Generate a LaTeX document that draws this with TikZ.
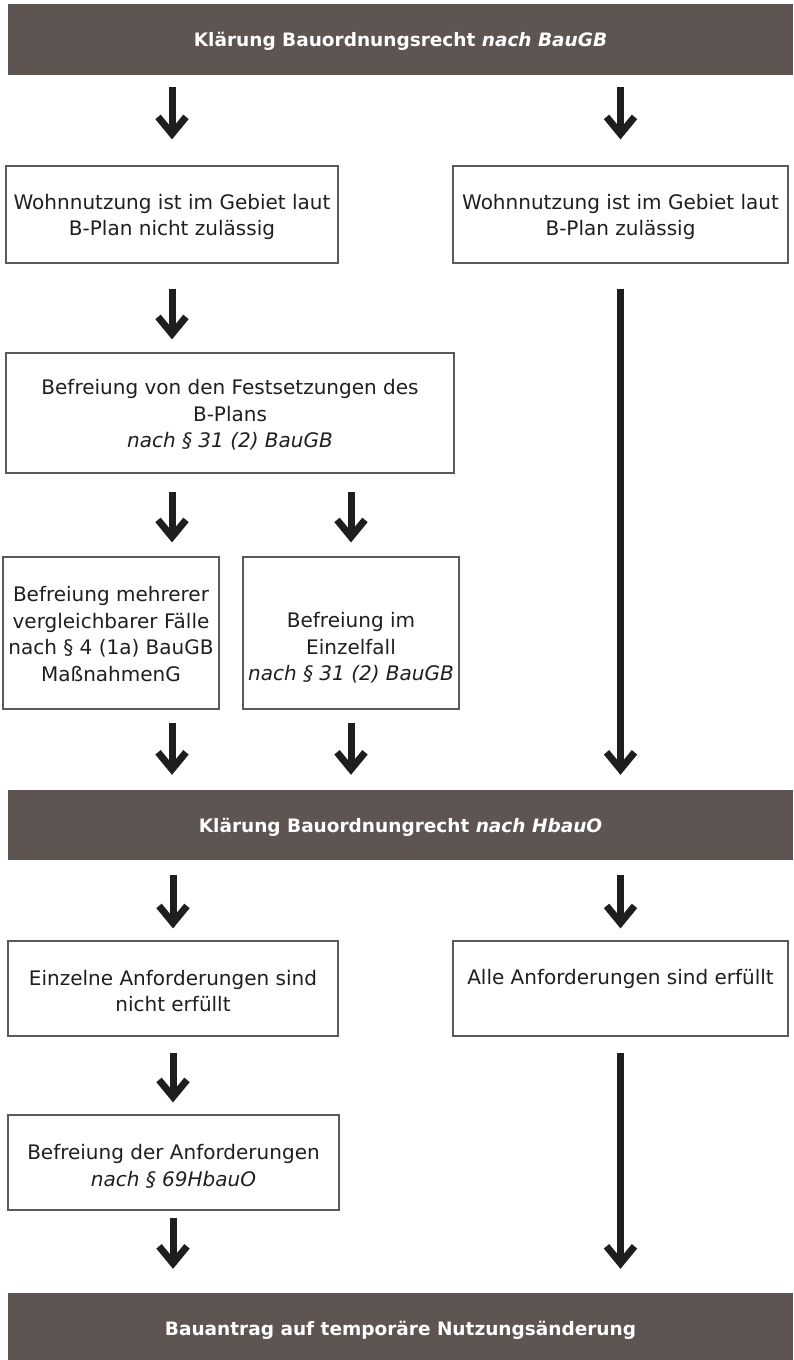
\documentclass[tikz,border=0pt]{standalone}
\usepackage{fontspec}
\setmainfont{DejaVu Sans}
\usetikzlibrary{arrows.meta}
\definecolor{hdrfill}{HTML}{5E5451}
\definecolor{ink}{HTML}{1E1E1E}
\definecolor{txtc}{HTML}{1F1F1F}
\definecolor{framec}{HTML}{5A5A5A}
\begin{document}
\begin{tikzpicture}[x=1pt,y=-1pt,
  hdr/.style={fill=hdrfill, draw=none, minimum width=785pt, minimum height=71pt, inner sep=0pt},
  hdrtext/.style={inner sep=0pt, text=white, font=\fontsize{18.5}{22}\selectfont\bfseries},
  box/.style={draw=framec, line width=1.2pt, fill=white, inner sep=0pt},
  lbl/.style={inner sep=0pt, text=txtc, align=center, font=\fontsize{20}{26.7}\selectfont},
  arr/.style={draw=ink, line width=7pt, -{Straight Barb[sharp, length=17pt, width=28pt, line width=7pt]}}
]
\useasboundingbox (0,0) rectangle (793,1360);

% headers
\node[hdr] (h1) at (400.5,39.5) {};
\node[hdrtext] (h1t) at (400.5,41) {Klärung Bauordnungsrecht \textit{nach BauGB}};
\node[hdr, minimum height=70pt] (h2) at (400.5,825) {};
\node[hdrtext] (h2t) at (400.5,827) {Klärung Bauordnungrecht \textit{nach HbauO}};
\node[hdr, minimum height=70pt] (h3) at (400.5,1328) {};
\node[hdrtext] (h3t) at (400.5,1330) {Bauantrag auf temporäre Nutzungsänderung};

% boxes
\node[box, minimum width=332pt, minimum height=97pt] (a1) at (172,214.5) {};
\node[lbl] (a1t) at (172,217) {Wohnnutzung ist im Gebiet laut\\B-Plan nicht zulässig};
\node[box, minimum width=335pt, minimum height=97pt] (b1) at (620.5,214.5) {};
\node[lbl] (b1t) at (620.5,217) {Wohnnutzung ist im Gebiet laut\\B-Plan zulässig};

\node[box, minimum width=448pt, minimum height=120pt] (a2) at (230,413) {};
\node[lbl] (a2t) at (230,415) {Befreiung von den Festsetzungen des\\B-Plans\\\textit{nach § 31 (2) BauGB}};

\node[box, minimum width=216pt, minimum height=152pt] (a3) at (111,633) {};
\node[lbl] (a3t) at (111,634) {Befreiung mehrerer\\vergleichbarer Fälle\\nach § 4 (1a) BauGB\\MaßnahmenG};
\node[box, minimum width=216pt, minimum height=152pt] (a4) at (351,633) {};
\node[lbl] (a4t) at (351,648) {Befreiung im\\Einzelfall\\\textit{nach § 31 (2) BauGB}};

\node[box, minimum width=330pt, minimum height=95pt] (a5) at (173,988.5) {};
\node[lbl] (a5t) at (173,991) {Einzelne Anforderungen sind\\nicht erfüllt};
\node[box, minimum width=335pt, minimum height=95pt] (b5) at (620.5,988.5) {};
\node[lbl] (b5t) at (620.5,979) {Alle Anforderungen sind erfüllt};

\node[box, minimum width=331pt, minimum height=95pt] (a6) at (173.5,1162.5) {};
\node[lbl] (a6t) at (173.5,1166) {Befreiung der Anforderungen\\\textit{nach § 69HbauO}};

% connectors
\draw[arr, shorten <=12pt, shorten >=26pt] (h1.south -| a1.north) -- (a1.north);
\draw[arr, shorten <=12pt, shorten >=26pt] (h1.south -| b1.north) -- (b1.north);
\draw[arr, shorten <=25pt, shorten >=13pt] (a1.south) -- (a2.north -| a1.south);
\draw[arr, shorten <=25pt, shorten >=15pt] (b1.south) -- (h2.north -| b1.south);
\draw[arr, shorten <=18pt, shorten >=14pt] (a2.south -| a1.south) -- (a3.north -| a1.south);
\draw[arr, shorten <=18pt, shorten >=14pt] (a2.south -| a4.north) -- (a4.north);
\draw[arr, shorten <=13pt, shorten >=15pt] (a3.south -| a1.south) -- (h2.north -| a1.south);
\draw[arr, shorten <=13pt, shorten >=15pt] (a4.south) -- (h2.north -| a4.south);
\draw[arr, shorten <=15pt, shorten >=12pt] (h2.south -| a5.north) -- (a5.north);
\draw[arr, shorten <=15pt, shorten >=12pt] (h2.south -| b5.north) -- (b5.north);
\draw[arr, shorten <=16pt, shorten >=12pt] (a5.south) -- (a6.north -| a5.south);
\draw[arr, shorten <=16pt, shorten >=24pt] (b5.south) -- (h3.north -| b5.south);
\draw[arr, shorten <=7pt, shorten >=24pt] (a6.south -| a5.south) -- (h3.north -| a5.south);
\end{tikzpicture}
\end{document}
